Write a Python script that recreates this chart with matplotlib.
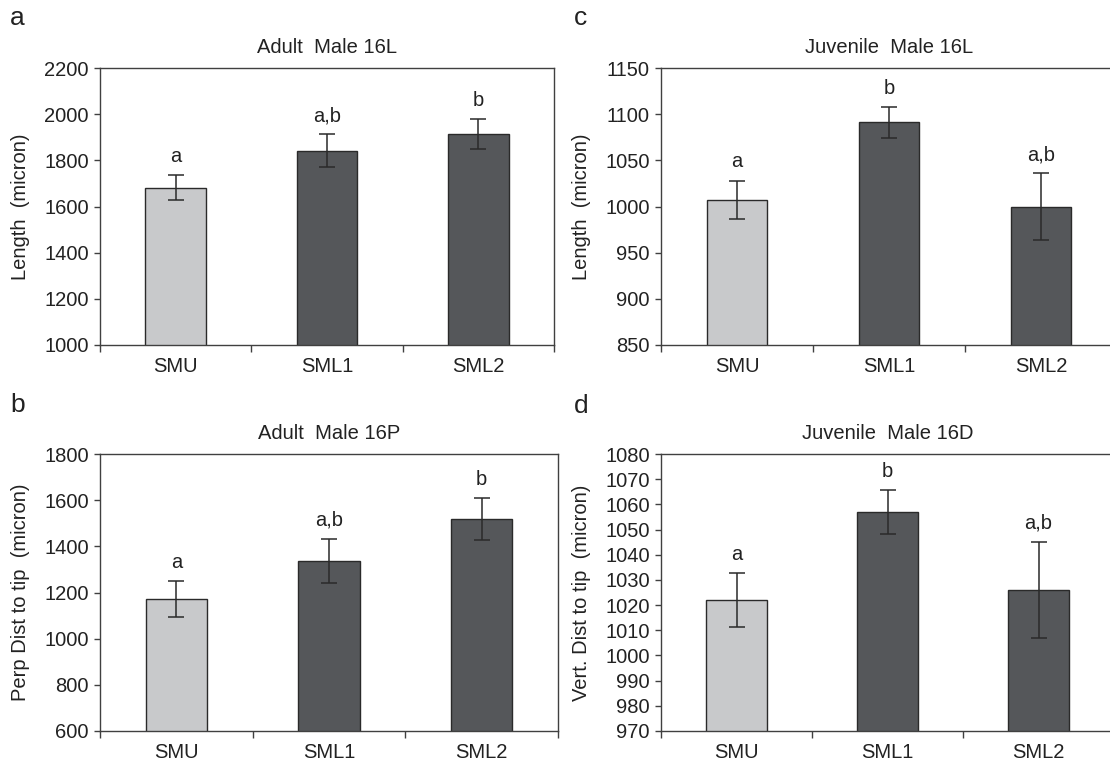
import matplotlib
matplotlib.use("Agg")
import matplotlib.pyplot as plt
import numpy as np

plt.rcParams['font.family'] = ['Liberation Sans', 'DejaVu Sans']

categories = ["SMU", "SML1", "SML2"]

# Panel a: Adult Male 16L
a_mean = [1682, 1842, 1915]
a_err = [53, 70, 64]
a_sig = ["a", "a,b", "b"]

# Panel b: Adult Male 16P
b_mean = [1172, 1335, 1517]
b_err = [77, 96, 91]
b_sig = ["a", "a,b", "b"]

# Panel c: Juvenile Male 16L
c_mean = [1007, 1091, 1000]
c_err = [21, 17, 36]
c_sig = ["a", "b", "a,b"]

# Panel d: Juvenile Male 16D
d_mean = [1022, 1057, 1026]
d_err = [10.7, 8.7, 19.2]
d_sig = ["a", "b", "a,b"]

panels = [
    dict(letter="a", title="Adult  Male 16L", ylabel="Length  (micron)",
         mean=a_mean, err=a_err, sig=a_sig, ylim=(1000, 2200), step=200,
         rect=(100, 68, 554, 345), lpos=(10, 25), cropped=False),
    dict(letter="b", title="Adult  Male 16P", ylabel="Perp Dist to tip  (micron)",
         mean=b_mean, err=b_err, sig=b_sig, ylim=(600, 1800), step=200,
         rect=(100, 454, 558, 731), lpos=(10, 412), cropped=False),
    dict(letter="c", title="Juvenile  Male 16L", ylabel="Length  (micron)",
         mean=c_mean, err=c_err, sig=c_sig, ylim=(850, 1150), step=50,
         rect=(661, 68, 1117, 345), lpos=(574, 25), cropped=True),
    dict(letter="d", title="Juvenile  Male 16D", ylabel="Vert. Dist to tip  (micron)",
         mean=d_mean, err=d_err, sig=d_sig, ylim=(970, 1080), step=10,
         rect=(661, 454, 1114, 731), lpos=(574, 413), cropped=True),
]

W, H = 1110, 763
fig = plt.figure(figsize=(W / 100, H / 100), dpi=100)
txt = "#222222"
colors = ["#c8c9cb", "#55575a", "#55575a"]

for p in panels:
    l, t, r, b = p["rect"]
    ax = fig.add_axes([l / W, 1 - b / H, (r - l) / W, (b - t) / H])
    x = np.arange(len(categories))
    ax.bar(x, p["mean"], width=0.4, color=colors, edgecolor="#2a2a2a",
           linewidth=1.0, zorder=2)
    ax.errorbar(x, p["mean"], yerr=p["err"], fmt="none", ecolor="#2a2a2a",
                elinewidth=1.1, capsize=5.5, capthick=1.1, zorder=3)
    for xi, m, e, s in zip(x, p["mean"], p["err"], p["sig"]):
        ax.annotate(s, xy=(xi, m + e), xytext=(0, 9.5), textcoords="offset points",
                    ha="center", va="baseline", fontsize=14.5, color=txt)
    ax.set_xlim(-0.5, 2.5)
    ax.set_ylim(*p["ylim"])
    ax.set_yticks(np.arange(p["ylim"][0], p["ylim"][1] + 0.1, p["step"]))
    ax.set_xticks([-0.5, 0.5, 1.5, 2.5])
    ax.set_xticklabels([])
    ax.set_xticks(x, minor=True)
    ax.set_xticklabels(categories, minor=True)
    ax.tick_params(axis="x", which="major", length=5, width=1.0, color="#404040")
    ax.tick_params(axis="x", which="minor", length=0, pad=9, labelsize=14.5, labelcolor=txt)
    ax.tick_params(axis="y", length=4, width=1.0, color="#404040", pad=4,
                   labelsize=14.5, labelcolor=txt)
    for sp in ax.spines.values():
        sp.set_color("#404040")
        sp.set_linewidth(1.0)
    if p["cropped"]:
        ax.spines["right"].set_visible(False)
    ax.set_title(p["title"], fontsize=14.5, color=txt, pad=10.5)
    ax.set_ylabel(p["ylabel"], fontsize=14.5, color=txt)
    ax.yaxis.set_label_coords(-70 / (r - l), 0.5)
    fig.text(p["lpos"][0] / W, 1 - p["lpos"][1] / H, p["letter"], fontsize=19,
             color=txt, ha="left", va="baseline")

fig.savefig("out.png", dpi=100)
